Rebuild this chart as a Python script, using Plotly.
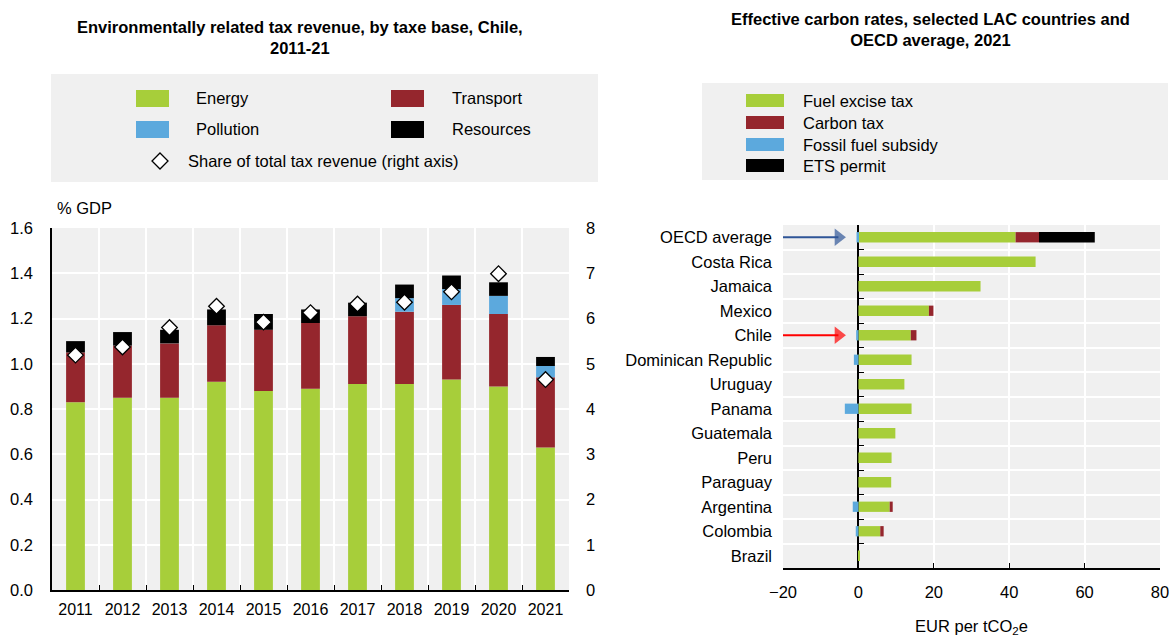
import plotly.graph_objects as go

# ---------------- Data: left panel ----------------
years = ["2011", "2012", "2013", "2014", "2015", "2016", "2017", "2018", "2019", "2020", "2021"]
energy = [0.83, 0.85, 0.85, 0.92, 0.88, 0.89, 0.91, 0.91, 0.93, 0.90, 0.63]
transport = [0.22, 0.23, 0.24, 0.25, 0.27, 0.29, 0.30, 0.32, 0.33, 0.32, 0.31]
pollution = [0.0, 0.0, 0.0, 0.0, 0.0, 0.0, 0.0, 0.06, 0.07, 0.08, 0.05]
resources = [0.05, 0.06, 0.06, 0.07, 0.07, 0.06, 0.06, 0.06, 0.06, 0.06, 0.04]
share_total = [5.19, 5.37, 5.80, 6.27, 5.92, 6.13, 6.32, 6.36, 6.59, 6.99, 4.65]

# ---------------- Data: right panel ----------------
countries = ["OECD average", "Costa Rica", "Jamaica", "Mexico", "Chile", "Dominican Republic",
             "Uruguay", "Panama", "Guatemala", "Peru", "Paraguay", "Argentina", "Colombia", "Brazil"]
fuel_excise = [41.7, 47.0, 32.4, 18.7, 13.9, 14.1, 12.2, 14.1, 9.8, 8.8, 8.7, 8.3, 5.8, 0.4]
carbon_tax = [6.2, 0.0, 0.0, 1.2, 1.5, 0.0, 0.0, 0.0, 0.0, 0.0, 0.0, 0.8, 0.9, 0.0]
fossil_subsidy = [-0.5, 0.0, 0.0, 0.0, -0.6, -1.2, 0.0, -3.6, 0.0, 0.0, 0.0, -1.5, -0.7, 0.0]
ets_permit = [14.8, 0.0, 0.0, 0.0, 0.0, 0.0, 0.0, 0.0, 0.0, 0.0, 0.0, 0.0, 0.0, 0.0]
highlighted = ["OECD average", "Chile"]

# ---------------- Styles ----------------
GREEN = "#a7ce3a"
RED = "#95262d"
BLUE = "#5ca9dd"
BLACK = "#000000"
BG = "#f0f0f0"
FONT = "Liberation Sans Narrow, Arial Narrow, Liberation Sans, Arial, sans-serif"
FS = 16.5
W, H = 1175, 637


def px(x):
    return x / W


def py(y):
    return 1 - y / H


fig = go.Figure()

# Left: stacked bars
for name, vals, col in [("Energy", energy, GREEN), ("Transport", transport, RED),
                        ("Pollution", pollution, BLUE), ("Resources", resources, BLACK)]:
    fig.add_trace(go.Bar(x=years, y=vals, name=name, marker=dict(color=col, line=dict(width=0)),
                         width=0.4, xaxis="x", yaxis="y", showlegend=False))
fig.add_trace(go.Scatter(x=years, y=share_total, mode="markers", name="Share of total tax revenue (right axis)",
                         marker=dict(symbol="diamond", size=12, color="white", line=dict(color="black", width=1.3)),
                         xaxis="x", yaxis="y2", showlegend=False))

# Right: horizontal stacked bars
for name, vals, col in [("Fuel excise tax", fuel_excise, GREEN), ("Carbon tax", carbon_tax, RED),
                        ("Fossil fuel subsidy", fossil_subsidy, BLUE), ("ETS permit", ets_permit, BLACK)]:
    fig.add_trace(go.Bar(y=countries, x=vals, name=name, orientation="h",
                         marker=dict(color=col, line=dict(width=0)), width=0.42,
                         xaxis="x2", yaxis="y3", showlegend=False))
# invisible trace for the zero-axis ticks
fig.add_trace(go.Scatter(y=countries, x=[0] * len(countries), mode="markers", marker=dict(opacity=0),
                         xaxis="x2", yaxis="y4", showlegend=False, hoverinfo="skip"))

# Arrows pointing at highlighted countries
for country, col in zip(highlighted, ["#2f5597", "#ff0000"]):
    fig.add_trace(go.Scatter(x=[-20, -5.3], y=[country, country], mode="lines+markers",
                             line=dict(color=col, width=2),
                             marker=dict(symbol=["circle", "triangle-right"], size=[0, 15], color=col,
                                         line=dict(width=0)),
                             xaxis="x2", yaxis="y3", showlegend=False, hoverinfo="skip", cliponaxis=False))

tickfont = dict(family=FONT, size=FS, color="#000")
n_years = len(years)
n_c = len(countries)

fig.update_layout(
    width=W, height=H,
    margin=dict(l=0, r=0, t=0, b=0, autoexpand=False),
    paper_bgcolor="white",
    plot_bgcolor=BG,
    barmode="relative",
    font=dict(family=FONT, size=FS, color="#000"),
    xaxis=dict(domain=[px(52), px(569)], anchor="y", type="category", tickson="boundaries",
               range=[-0.5, n_years - 0.5],
               showgrid=True, gridcolor="white", gridwidth=2, ticks="inside", ticklen=5,
               tickcolor="black", showline=True, linecolor="black", linewidth=1.5,
               tickfont=dict(family=FONT, size=16, color="#000"), tickangle=0, ticklabelstandoff=4,
               automargin=False),
    yaxis=dict(domain=[py(590), py(228)], anchor="x", range=[0, 1.6], dtick=0.2, tickformat=".1f",
               showgrid=True, gridcolor="white", gridwidth=2, zeroline=False,
               showline=True, linecolor="black", linewidth=1.5, ticks="", tickfont=tickfont,
               ticklabelstandoff=14, automargin=False),
    yaxis2=dict(overlaying="y", side="right", anchor="x", range=[0, 8], dtick=1,
                showgrid=False, zeroline=False, showline=False, tickfont=tickfont,
                ticklabelstandoff=16, automargin=False),
    xaxis2=dict(domain=[px(783), px(1160)], anchor="y3", range=[-20, 80], dtick=20,
                showgrid=True, gridcolor="white", gridwidth=2, zeroline=True, zerolinecolor="black",
                zerolinewidth=1.5, showline=True, linecolor="black", linewidth=1.5,
                ticks="inside", ticklen=5, tickcolor="black", tickfont=tickfont, ticklabelstandoff=8,
                automargin=False,
                title=dict(text="EUR per tCO<sub>2</sub>e", font=dict(family=FONT, size=FS), standoff=22)),
    yaxis3=dict(domain=[py(568), py(225)], anchor="x2", type="category",
                categoryorder="array", categoryarray=countries, range=[n_c - 0.5, -0.5],
                tickson="boundaries", showgrid=True, gridcolor="white", gridwidth=2,
                ticks="", showline=False, tickfont=tickfont, ticklabelstandoff=10, automargin=False),
    yaxis4=dict(overlaying="y3", anchor="free", position=px(858), type="category",
                categoryorder="array", categoryarray=countries, range=[n_c - 0.5, -0.5],
                tickson="boundaries", showgrid=False, showline=False, ticks="inside",
                ticklen=5, tickcolor="black", showticklabels=False, side="left", automargin=False),
)

# Titles
fig.add_annotation(x=px(300), y=py(38), xref="paper", yref="paper", showarrow=False,
                   xanchor="center", yanchor="middle",
                   text="<b>Environmentally related tax revenue, by taxe base, Chile,<br>2011-21</b>",
                   font=dict(family=FONT, size=16.5), align="center")
fig.add_annotation(x=px(930), y=py(30), xref="paper", yref="paper", showarrow=False,
                   xanchor="center", yanchor="middle",
                   text="<b>Effective carbon rates, selected LAC countries and<br>OECD average, 2021</b>",
                   font=dict(family=FONT, size=16.5), align="center")

# % GDP label
fig.add_annotation(x=px(55), y=py(208), xref="paper", yref="paper", showarrow=False,
                   text="% GDP", xanchor="left", yanchor="middle", font=dict(family=FONT, size=FS))

# Legend boxes
shapes = []
shapes.append(dict(type="rect", xref="paper", yref="paper", x0=px(51), x1=px(598), y0=py(182), y1=py(74),
                   fillcolor=BG, line=dict(width=0), layer="below"))
shapes.append(dict(type="rect", xref="paper", yref="paper", x0=px(702), x1=px(1168), y0=py(180), y1=py(83),
                   fillcolor=BG, line=dict(width=0), layer="below"))

left_items = [("Energy", GREEN, 136, 90, 194), ("Transport", RED, 391, 90, 450),
              ("Pollution", BLUE, 136, 121, 194), ("Resources", BLACK, 391, 121, 450)]
for name, col, x0, y0, tx in left_items:
    shapes.append(dict(type="rect", xref="paper", yref="paper", x0=px(x0), x1=px(x0 + 33),
                       y0=py(y0 + 17), y1=py(y0), fillcolor=col, line=dict(width=0)))
    fig.add_annotation(x=px(tx), y=py(y0 + 8.5), xref="paper", yref="paper", showarrow=False,
                       text=name, xanchor="left", yanchor="middle", font=dict(family=FONT, size=FS))
# diamond legend marker
shapes.append(dict(type="path", xref="paper", yref="paper",
                   path=f"M {px(160)} {py(153)} L {px(168)} {py(161)} L {px(160)} {py(169)} L {px(152)} {py(161)} Z",
                   fillcolor="white", line=dict(color="black", width=1.3)))
fig.add_annotation(x=px(186), y=py(161), xref="paper", yref="paper", showarrow=False,
                   text="Share of total tax revenue (right axis)", xanchor="left", yanchor="middle",
                   font=dict(family=FONT, size=FS))

right_items = [("Fuel excise tax", GREEN, 94), ("Carbon tax", RED, 116),
               ("Fossil fuel subsidy", BLUE, 138), ("ETS permit", BLACK, 159)]
for name, col, y0 in right_items:
    shapes.append(dict(type="rect", xref="paper", yref="paper", x0=px(746), x1=px(784),
                       y0=py(y0 + 13), y1=py(y0), fillcolor=col, line=dict(width=0)))
    fig.add_annotation(x=px(801), y=py(y0 + 7), xref="paper", yref="paper", showarrow=False,
                       text=name, xanchor="left", yanchor="middle", font=dict(family=FONT, size=FS))

fig.update_layout(shapes=shapes)

fig.write_html("out.html", config={"displayModeBar": False},
               post_script="document.body.style.margin='0';document.body.style.overflow='hidden';")
